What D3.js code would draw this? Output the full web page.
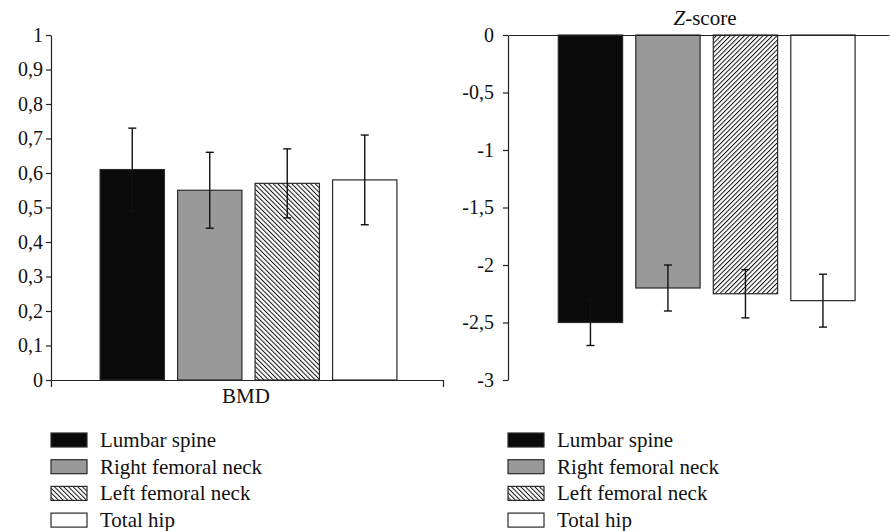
<!DOCTYPE html>
<html>
<head>
<meta charset="utf-8">
<script src="https://cdn.jsdelivr.net/npm/d3@7"></script>
</head>
<body style="margin:0;background:#fff">
<svg id="chart" width="890" height="531" style="display:block"></svg>
<script>
// ---- Data ----
const categories = ["Lumbar spine", "Right femoral neck", "Left femoral neck", "Total hip"];
const bmdValues = [0.61, 0.55, 0.57, 0.58];
const bmdErrors = [0.12, 0.11, 0.10, 0.13];
const zValues = [-2.50, -2.20, -2.25, -2.31];
const zErrors = [0.20, 0.20, 0.21, 0.23];
const bmdTicks = [0, 0.1, 0.2, 0.3, 0.4, 0.5, 0.6, 0.7, 0.8, 0.9, 1];
const zTicks = [0, -0.5, -1, -1.5, -2, -2.5, -3];
const bmdLabel = "BMD";
const zTitleItalic = "Z";
const zTitleRest = "-score";

// ---- Setup ----
const FONT = "Liberation Serif, Tinos, Times New Roman, serif";
const svg = d3.select("#chart");
const locale = d3.formatLocale({decimal: ",", thousands: ".", grouping: [3], currency: ["", ""], minus: "-"});
const fmt = locale.format("~g");

const fills = ["#0a0a0a", "#999999", "url(#hatchBack)", "#ffffff"];
const fillsZ = ["#0a0a0a", "#999999", "url(#hatchFwd)", "#ffffff"];
const legendFills = ["#0a0a0a", "#999999", "url(#hatchBack)", "#ffffff"];
const strokeCol = "#2a2a2a";
const errCol = "#111";

// patterns
const defs = svg.append("defs");
function makeHatch(id, angle) {
  const p = defs.append("pattern")
    .attr("id", id)
    .attr("patternUnits", "userSpaceOnUse")
    .attr("width", 3.3).attr("height", 3.3)
    .attr("patternTransform", `rotate(${angle})`);
  p.append("rect").attr("width", 3.3).attr("height", 3.3).attr("fill", "#fff");
  p.append("line").attr("x1", 0.5).attr("y1", 0).attr("x2", 0.5).attr("y2", 3.3)
    .attr("stroke", "#111").attr("stroke-width", 1);
}
makeHatch("hatchBack", -45);
makeHatch("hatchFwd", 45);

// ---- Left chart: BMD ----
const yL = d3.scaleLinear().domain([0, 1]).range([380, 35]);
const xL = d3.scaleBand().domain(categories).range([93.5, 403.5]).paddingInner(0.17).paddingOuter(0.085);
const gL = svg.append("g");

gL.selectAll("rect.bar").data(categories).enter().append("rect")
  .attr("class", "bar")
  .attr("x", d => xL(d))
  .attr("width", xL.bandwidth())
  .attr("y", (d, i) => yL(bmdValues[i]))
  .attr("height", (d, i) => yL(0) - yL(bmdValues[i]))
  .attr("fill", (d, i) => fills[i])
  .attr("stroke", strokeCol).attr("stroke-width", 1.2);

// error bars
const errL = gL.selectAll("g.err").data(categories).enter().append("g")
  .attr("stroke", errCol).attr("stroke-width", 1.4);
errL.append("line")
  .attr("x1", d => xL(d) + xL.bandwidth() / 2).attr("x2", d => xL(d) + xL.bandwidth() / 2)
  .attr("y1", (d, i) => yL(bmdValues[i] + bmdErrors[i]))
  .attr("y2", (d, i) => yL(bmdValues[i] - bmdErrors[i]));
errL.each(function(d, i) {
  const cx = xL(d) + xL.bandwidth() / 2;
  [bmdValues[i] + bmdErrors[i], bmdValues[i] - bmdErrors[i]].forEach(v => {
    d3.select(this).append("line")
      .attr("x1", cx - 4).attr("x2", cx + 4)
      .attr("y1", yL(v)).attr("y2", yL(v));
  });
});

// axes
gL.append("g").attr("transform", "translate(51,0)")
  .call(d3.axisLeft(yL).tickValues(bmdTicks).tickFormat(fmt).tickSize(5).tickSizeOuter(0).tickPadding(3));
const xAxisScaleL = d3.scaleLinear().domain([0, 1]).range([51, 443]);
gL.append("g").attr("transform", "translate(0,380)")
  .call(d3.axisBottom(xAxisScaleL).tickValues([0, 1]).tickFormat("").tickSize(7).tickSizeOuter(0));
gL.append("text").attr("x", 246).attr("y", 403).attr("text-anchor", "middle")
  .attr("font-family", FONT).attr("font-size", 21).attr("fill", "#111").text(bmdLabel);

// ---- Right chart: Z-score ----
const yR = d3.scaleLinear().domain([-3, 0]).range([380, 35]);
const xR = d3.scaleBand().domain(categories).range([551.7, 861.7]).paddingInner(0.17).paddingOuter(0.085);
const gR = svg.append("g");

gR.selectAll("rect.bar").data(categories).enter().append("rect")
  .attr("class", "bar")
  .attr("x", d => xR(d))
  .attr("width", xR.bandwidth())
  .attr("y", yR(0))
  .attr("height", (d, i) => yR(zValues[i]) - yR(0))
  .attr("fill", (d, i) => fillsZ[i])
  .attr("stroke", strokeCol).attr("stroke-width", 1.2);

const errR = gR.selectAll("g.err").data(categories).enter().append("g")
  .attr("stroke", errCol).attr("stroke-width", 1.4);
errR.append("line")
  .attr("x1", d => xR(d) + xR.bandwidth() / 2).attr("x2", d => xR(d) + xR.bandwidth() / 2)
  .attr("y1", (d, i) => yR(zValues[i] + zErrors[i]))
  .attr("y2", (d, i) => yR(zValues[i] - zErrors[i]));
errR.each(function(d, i) {
  const cx = xR(d) + xR.bandwidth() / 2;
  [zValues[i] + zErrors[i], zValues[i] - zErrors[i]].forEach(v => {
    d3.select(this).append("line")
      .attr("x1", cx - 4).attr("x2", cx + 4)
      .attr("y1", yR(v)).attr("y2", yR(v));
  });
});

gR.append("g").attr("transform", "translate(508,0)")
  .call(d3.axisLeft(yR).tickValues(zTicks).tickFormat(fmt).tickSize(5).tickSizeOuter(0).tickPadding(9));
const xAxisScaleR = d3.scaleLinear().domain([0, 1]).range([508, 889]);
gR.append("g").attr("transform", "translate(0,35)")
  .call(d3.axisTop(xAxisScaleR).tickValues([]).tickSizeOuter(0));

const title = gR.append("text").attr("x", 705).attr("y", 25).attr("text-anchor", "middle")
  .attr("font-family", FONT).attr("font-size", 21).attr("fill", "#111");
title.append("tspan").attr("font-style", "italic").text(zTitleItalic);
title.append("tspan").text(zTitleRest);

// axis styling
svg.selectAll(".domain, .tick line").attr("stroke", "#222").attr("stroke-width", 1.2);
svg.selectAll(".tick text").attr("font-family", FONT).attr("font-size", 20).attr("fill", "#111");

// ---- Legends ----
function legend(x0) {
  const g = svg.append("g");
  const rows = g.selectAll("g").data(categories).enter().append("g")
    .attr("transform", (d, i) => `translate(${x0},${440 + i * 26.7})`);
  rows.append("rect").attr("x", 0).attr("y", -7).attr("width", 36).attr("height", 14)
    .attr("fill", (d, i) => legendFills[i]).attr("stroke", strokeCol).attr("stroke-width", 1.2);
  rows.append("text").attr("x", 49).attr("y", 0).attr("dy", "0.33em")
    .attr("font-family", FONT).attr("font-size", 21).attr("fill", "#111").text(d => d);
}
legend(51);
legend(508);
</script>
</body>
</html>
